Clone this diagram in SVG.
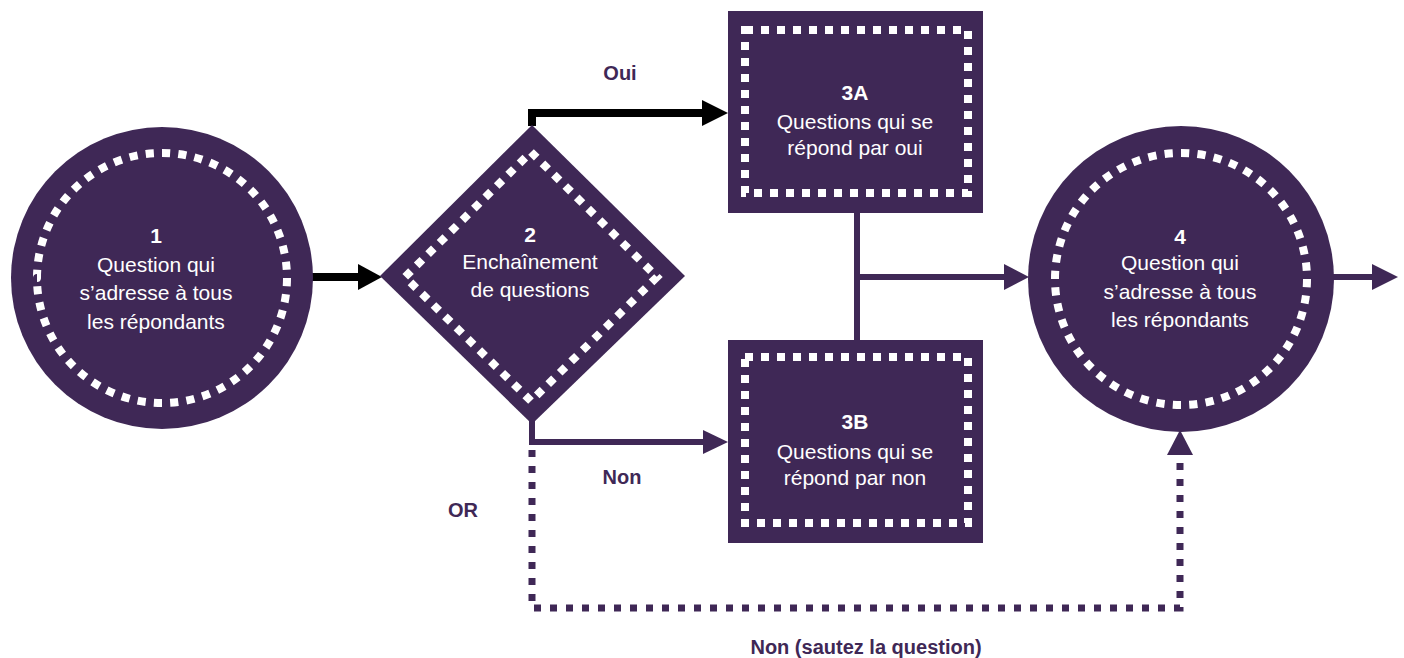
<svg xmlns="http://www.w3.org/2000/svg" width="1404" height="658" viewBox="0 0 1404 658">
<style>
.node{fill:#3f2856}
.dots{fill:none;stroke:#ffffff;stroke-width:8}
.t{font-family:"Liberation Sans",Arial,sans-serif;font-size:21px;fill:#ffffff;text-anchor:middle}
.b{font-weight:bold}
.lbl{font-family:"Liberation Sans",Arial,sans-serif;font-size:20px;font-weight:bold;fill:#3f2856;text-anchor:middle}
.blk{fill:none;stroke:#000000;stroke-width:8}
.pur{fill:none;stroke:#3f2856;stroke-width:6}
.dash{fill:none;stroke:#3f2856;stroke-width:7;stroke-dasharray:7 9}
</style>
<rect width="1404" height="658" fill="#ffffff"/>
<g id="connectors">
<path class="blk" d="M312 277 H362"/>
<polygon points="358,264 382,277 358,290" fill="#000000"/>
<path class="blk" d="M532 126 V113 H706"/>
<polygon points="702,100 728,113 702,126" fill="#000000"/>
<path class="pur" d="M532 420 V442 H706"/>
<polygon points="703,430 728,442 703,454" fill="#3f2856"/>
<path class="pur" d="M857 212 V341 M857 277 H1008"/>
<polygon points="1004,264 1029,277 1004,290" fill="#3f2856"/>
<path class="pur" d="M1332 277 H1376"/>
<polygon points="1372,264 1398,277 1372,290" fill="#3f2856"/>
<path class="dash" d="M532 450 V608 H1180 V455"/>
<polygon points="1167,455 1180,430 1193,455" fill="#3f2856"/>
<text class="lbl" x="620" y="80">Oui</text>
<text class="lbl" x="622" y="484">Non</text>
<text class="lbl" x="463" y="517">OR</text>
<text class="lbl" x="866" y="654">Non (sautez la question)</text>
</g>
<g id="node1">
<circle class="node" cx="162" cy="278" r="151"/>
<circle class="dots" cx="162" cy="278" r="125" pathLength="480" stroke-dasharray="5 5"/>
<text class="t b" x="156" y="243">1</text>
<text class="t" x="156" y="272">Question qui</text>
<text class="t" x="156" y="300">s’adresse à tous</text>
<text class="t" x="156" y="329">les répondants</text>
</g>
<g id="node2">
<polygon class="node" points="532,125 685,276 532,424 380,276"/>
<polygon class="dots" stroke-width="7" points="531,152 657,277 531,401 405,277" pathLength="704" stroke-dasharray="8 8"/>
<text class="t b" x="530" y="242">2</text>
<text class="t" x="530" y="269">Enchaînement</text>
<text class="t" x="530" y="297">de questions</text>
</g>
<g id="node3A">
<rect class="node" x="728" y="11" width="255" height="202"/>
<rect class="dots" stroke-width="7" x="745" y="30" width="223" height="163" pathLength="772" stroke-dasharray="8 8"/>
<text class="t b" x="855" y="100">3A</text>
<text class="t" x="855" y="129">Questions qui se</text>
<text class="t" x="855" y="155">répond par oui</text>
</g>
<g id="node3B">
<rect class="node" x="728" y="340" width="255" height="203"/>
<rect class="dots" stroke-width="7" x="745" y="357" width="223" height="166" pathLength="778" stroke-dasharray="8 8"/>
<text class="t b" x="855" y="429">3B</text>
<text class="t" x="855" y="459">Questions qui se</text>
<text class="t" x="855" y="485">répond par non</text>
</g>
<g id="node4">
<circle class="node" cx="1181" cy="279" r="153"/>
<circle class="dots" cx="1181" cy="279" r="126" pathLength="480" stroke-dasharray="5 5"/>
<text class="t b" x="1180" y="244">4</text>
<text class="t" x="1180" y="270">Question qui</text>
<text class="t" x="1180" y="299">s’adresse à tous</text>
<text class="t" x="1180" y="327">les répondants</text>
</g>
</svg>
